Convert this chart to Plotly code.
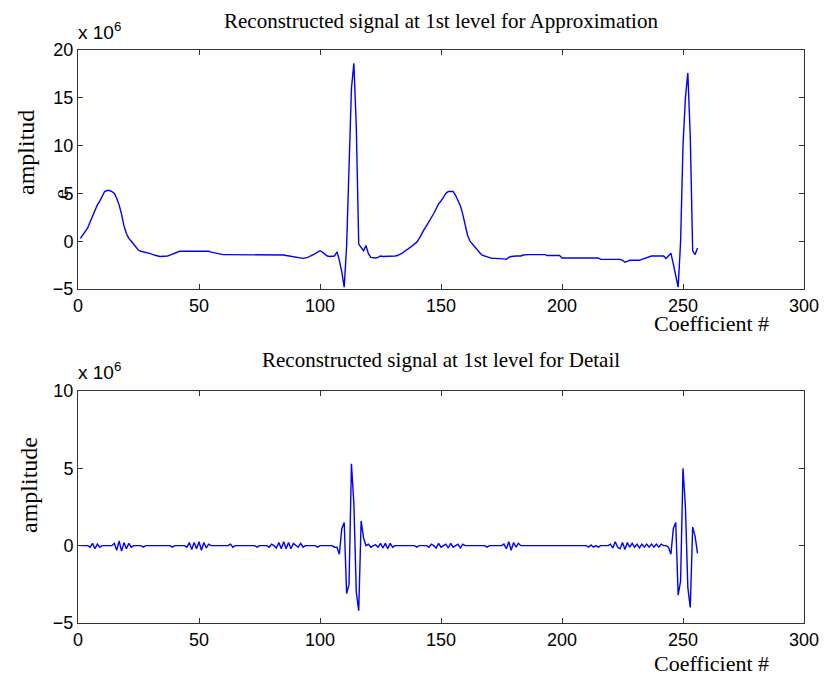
import plotly.graph_objects as go
from plotly.subplots import make_subplots

# ---------------- data (values in units of 1e6) ----------------
coef_index = list(range(1, 257))

approximation = [
    0.3, 0.7, 1.0, 1.4, 2.0, 2.6, 3.3, 3.8, 4.2, 4.8,
    5.2, 5.3, 5.3, 5.2, 5.0, 4.5, 3.8, 2.8, 1.6, 0.8,
    0.3, 0.0, -0.3, -0.6, -0.95, -1.05, -1.1, -1.15, -1.2, -1.3,
    -1.4, -1.5, -1.55, -1.6, -1.6, -1.6, -1.55, -1.45, -1.35, -1.25,
    -1.15, -1.05, -1.05, -1.05, -1.05, -1.05, -1.05, -1.05, -1.05, -1.05,
    -1.05, -1.05, -1.05, -1.05, -1.15, -1.2, -1.3, -1.35, -1.4, -1.4,
    -1.4, -1.4, -1.4, -1.4, -1.4, -1.4, -1.4, -1.4, -1.4, -1.4,
    -1.4, -1.4, -1.4, -1.4, -1.4, -1.4, -1.4, -1.4, -1.4, -1.4,
    -1.4, -1.4, -1.4, -1.4, -1.45, -1.5, -1.55, -1.6, -1.6, -1.7,
    -1.75, -1.75, -1.8, -1.75, -1.7, -1.55, -1.45, -1.3, -1.15, -1.0,
    -1.15, -1.4, -1.55, -1.6, -1.6, -1.55, -1.1, -2.0, -3.2, -4.8,
    -0.5, 9.0, 16.0, 18.6, 12.0, -0.3, -0.6, -1.0, -0.45, -1.3,
    -1.7, -1.75, -1.75, -1.7, -1.55, -1.6, -1.6, -1.6, -1.6, -1.55,
    -1.55, -1.5, -1.4, -1.25, -1.05, -0.9, -0.7, -0.5, -0.3, -0.1,
    0.3, 0.8, 1.2, 1.6, 2.0, 2.5, 2.9, 3.4, 3.9, 4.2,
    4.6, 5.0, 5.2, 5.2, 5.2, 4.8, 4.3, 3.7, 2.8, 1.7,
    0.6, 0.0, -0.3, -0.6, -1.0, -1.2, -1.45, -1.55, -1.65, -1.75,
    -1.8, -1.8, -1.8, -1.8, -1.8, -1.85, -1.9, -1.7, -1.6, -1.55,
    -1.55, -1.55, -1.55, -1.45, -1.4, -1.4, -1.4, -1.4, -1.4, -1.4,
    -1.4, -1.4, -1.4, -1.5, -1.5, -1.5, -1.5, -1.5, -1.5, -1.75,
    -1.75, -1.75, -1.75, -1.75, -1.75, -1.75, -1.75, -1.75, -1.75, -1.75,
    -1.75, -1.75, -1.75, -1.75, -1.75, -1.9, -1.9, -1.9, -1.9, -1.9,
    -1.9, -1.9, -1.9, -1.9, -2.0, -2.2, -2.1, -2.0, -2.0, -2.0,
    -2.0, -2.0, -1.9, -1.8, -1.7, -1.6, -1.55, -1.55, -1.55, -1.55,
    -1.55, -1.55, -1.8, -1.5, -1.25, -2.4, -3.8, -4.8, -0.1, 10.0,
    15.0, 17.6, 11.0, -1.0, -1.4, -0.7,
]

detail = [
    0, 0, 0, 0, -0.1, 0.15, -0.2, 0.1, -0.1, 0,
    0, 0, 0, 0, 0.15, -0.3, 0.3, -0.35, 0.2, -0.2,
    0.15, -0.1, 0, 0, 0, 0, -0.1, 0, 0, 0,
    0, 0, 0, 0, 0, 0, 0, 0, -0.1, 0,
    0, 0, 0, 0, -0.1, 0.2, -0.25, 0.2, -0.2, 0.25,
    -0.3, 0.2, -0.15, 0.1, 0, 0, 0, 0, 0, 0,
    0, 0, 0.1, -0.1, 0, 0, 0, 0, 0, 0,
    0, 0, 0, -0.1, 0, 0, 0, 0, -0.1, 0.1,
    0, -0.15, 0.2, -0.2, 0.25, -0.2, 0.2, -0.2, 0.15, 0,
    -0.1, 0.15, -0.1, 0, 0, 0, 0, 0, -0.1, 0,
    0, 0, 0, 0, 0, -0.1, -0.1, -0.55, 1.1, 1.5,
    -3.1, -2.5, 5.3, 2.7, -3.0, -4.2, 1.6, 0.5, 0.0, 0.1,
    -0.1, 0, 0.05, -0.1, 0.15, -0.15, 0.15, -0.2, 0.15, -0.1,
    0, 0, 0, 0, 0, 0, 0, 0, 0, -0.1,
    0, 0, 0, 0, -0.1, 0.1, 0, -0.15, 0.15, -0.1,
    0, 0.1, -0.15, 0.15, -0.1, 0, 0.1, -0.15, 0.1, 0,
    0, 0, 0, 0, 0, 0, 0, 0, -0.1, 0,
    0, 0, 0, 0, 0, 0.1, -0.2, 0.25, -0.3, 0.2,
    -0.1, 0.15, 0, 0, 0, 0, 0, 0, 0, 0,
    0, 0, 0, 0, 0, 0, 0, 0, 0, 0,
    0, 0, 0, 0, 0, 0, 0, 0, 0, 0,
    -0.1, 0.05, -0.1, 0, -0.1, 0, 0, 0, 0, 0.1,
    -0.15, 0.25, -0.1, -0.2, 0.2, -0.25, 0.2, -0.1, 0.15, -0.1,
    0.1, -0.15, 0.1, -0.1, 0.1, -0.1, 0.1, -0.1, 0.1, -0.1,
    0.1, 0, 0, -0.1, -0.55, 1.1, 1.5, -3.2, -2.3, 5.0,
    2.5, -2.7, -4.0, 1.2, 0.6, -0.5,
]

x_ticks = [0, 50, 100, 150, 200, 250, 300]
y_ticks_top = [-5, 0, 5, 10, 15, 20]
y_ticks_bottom = [-5, 0, 5, 10]

title_top = "Reconstructed signal at 1st level for Approximation"
title_bottom = "Reconstructed signal at 1st level for Detail"
x_label = "Coefficient #"
y_label_top = "amplitud"
y_label_bottom = "amplitude"

# ---------------- figure ----------------
W, H = 828, 679

def px(x):
    return x / W

def py(y):
    return 1 - y / H

fig = make_subplots(rows=2, cols=1)
fig.add_trace(go.Scatter(x=coef_index, y=approximation, mode="lines",
                         line=dict(color="#0000ff", width=1.4), showlegend=False,
                         hoverinfo="skip"), row=1, col=1)
fig.add_trace(go.Scatter(x=coef_index, y=detail, mode="lines",
                         line=dict(color="#0000ff", width=1.4), showlegend=False,
                         hoverinfo="skip"), row=2, col=1)

tick_font = dict(family="Liberation Sans, Arial, sans-serif", size=18, color="black")
serif = "Liberation Serif, Times New Roman, serif"

axis_common = dict(showline=True, linecolor="#333333", linewidth=1, mirror="ticks",
                   ticks="inside", ticklen=5, tickcolor="#333333", showgrid=False,
                   zeroline=False, tickfont=tick_font, automargin=False)

fig.update_xaxes(range=[0, 300], tickvals=x_ticks, domain=[px(78), px(804)], **axis_common)
fig.update_yaxes(**axis_common)
fig.update_yaxes(range=[-5, 20], tickvals=y_ticks_top,
                 domain=[py(289), py(50)], row=1, col=1)
fig.update_yaxes(range=[-5, 10], tickvals=y_ticks_bottom,
                 domain=[py(623), py(391)], row=2, col=1)

ann = []
def text(x, y, s, size, family, angle=0, xanchor="center"):
    ann.append(dict(x=px(x), y=py(y), xref="paper", yref="paper", text=s,
                    showarrow=False, textangle=angle, xanchor=xanchor, yanchor="middle",
                    font=dict(family=family, size=size, color="black")))

text(441, 21, title_top, 21, serif)
text(441, 360, title_bottom, 21, serif)
text(711, 323, x_label, 22, serif)
text(711, 663, x_label, 22, serif)
text(26, 153, y_label_top, 24, serif, angle=-90)
text(60, 194, "e", 22, serif, angle=-90)
text(29, 485, y_label_bottom, 24, serif, angle=-90)
text(76, 31, "x 10<sup>6</sup>", 19, "Liberation Sans, Arial, sans-serif", xanchor="left")
text(76, 371, "x 10<sup>6</sup>", 19, "Liberation Sans, Arial, sans-serif", xanchor="left")

fig.update_layout(width=W, height=H, margin=dict(l=0, r=0, t=0, b=0),
                  paper_bgcolor="white", plot_bgcolor="white", annotations=ann)

fig.write_html("out.html", config={"displayModeBar": False},
               post_script="document.body.style.margin='0';document.body.style.overflow='hidden';")
